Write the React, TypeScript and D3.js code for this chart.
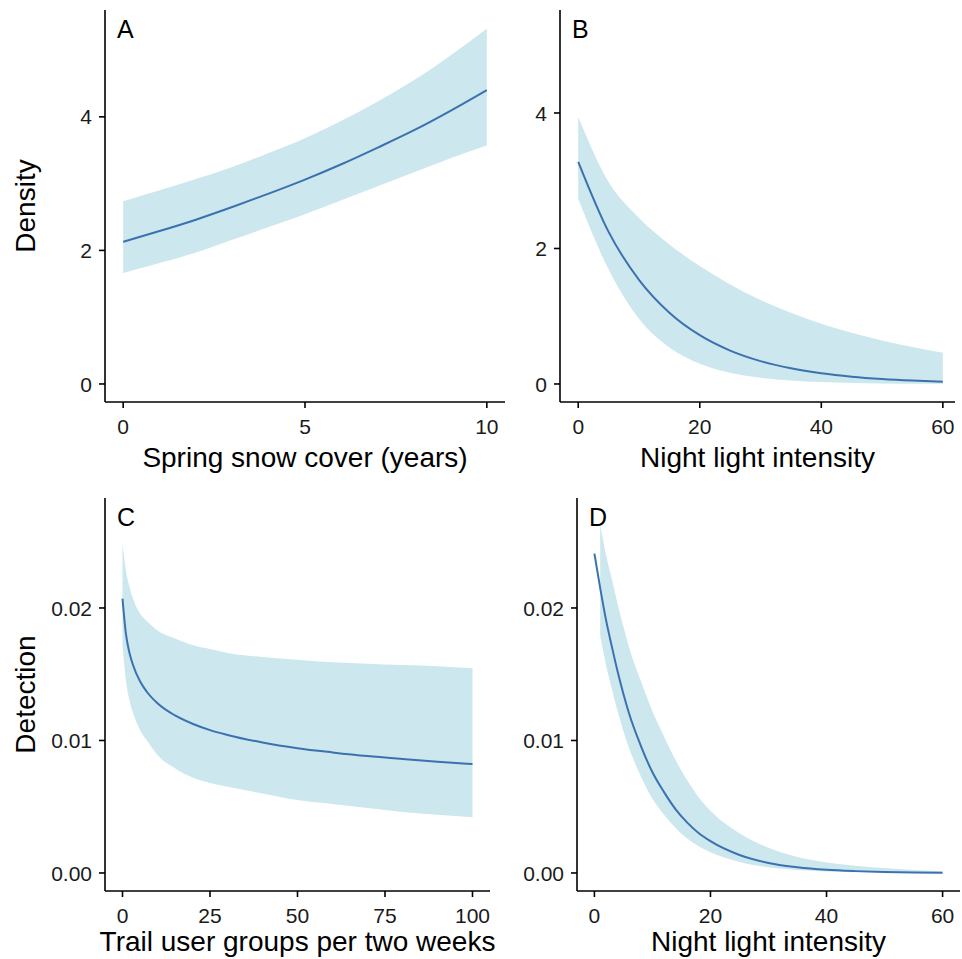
import React from "react";
import * as d3 from "d3";

// panel A: density vs spring snow cover
const snowX = [0, 1, 2, 3, 4, 5, 6, 7, 8, 9, 10];
const snowFit = [2.13, 2.29, 2.46, 2.65, 2.85, 3.06, 3.29, 3.54, 3.8, 4.09, 4.4];
const snowUpper = [2.735, 2.9, 3.07, 3.25, 3.46, 3.68, 3.94, 4.23, 4.55, 4.92, 5.32];
const snowLower = [1.66, 1.81, 1.97, 2.16, 2.35, 2.54, 2.75, 2.96, 3.17, 3.38, 3.57];

// panel B: density vs night light
const lightX = [0, 5, 10, 15, 20, 25, 30, 35, 40, 45, 50, 55, 60];
const lightFit = [3.28, 2.245, 1.537, 1.052, 0.72, 0.493, 0.3375, 0.231, 0.158, 0.108, 0.074, 0.0507, 0.0347];
const lightUpper = [3.94, 2.98, 2.45, 2.06, 1.74, 1.47, 1.24, 1.05, 0.89, 0.755, 0.64, 0.544, 0.46];
const lightLower = [2.73, 1.69, 0.962, 0.538, 0.299, 0.166, 0.0917, 0.0507, 0.028, 0.0155, 0.0086, 0.0047, 0.0026];

// panel C: detection vs trail users
const trailX = [0, 1, 2, 3, 5, 7, 10, 15, 20, 25, 30, 40, 50, 60, 70, 80, 90, 100];
const trailFit = [0.0207, 0.018, 0.0166, 0.0157, 0.01447, 0.01366, 0.01281, 0.01189, 0.01126, 0.01078, 0.01042, 0.00985, 0.00942, 0.0091, 0.00882, 0.0086, 0.0084, 0.00822];
const trailUpper = [0.0249, 0.0228, 0.0216, 0.0207, 0.0196, 0.019, 0.0183, 0.0177, 0.0172, 0.0169, 0.0166, 0.0163, 0.0161, 0.0159, 0.0158, 0.0157, 0.0156, 0.01545];
const trailLower = [0.0172, 0.0145, 0.013, 0.0121, 0.0108, 0.01, 0.0089, 0.0079, 0.0072, 0.0068, 0.0065, 0.006, 0.0055, 0.0052, 0.0049, 0.0046, 0.0044, 0.0042];

// panel D: detection vs night light
const detX = [0, 1, 2, 3, 4, 5, 6, 8, 10, 12, 14, 16, 18, 20, 25, 30, 35, 40, 45, 50, 55, 60];
const detFit = [0.0241, 0.0215, 0.0191, 0.0171, 0.0152, 0.0135, 0.012, 0.0096, 0.0076, 0.0061, 0.0048, 0.0038, 0.003, 0.0024, 0.00136, 0.00076, 0.00043, 0.00024, 0.00014, 0.00008, 0.00004, 0.00002];
// ribbon starts at x = 1
const detBandX = [1, 2, 3, 4, 5, 6, 8, 10, 12, 14, 16, 18, 20, 25, 30, 35, 40, 45, 50, 55, 60];
const detUpper = [0.0263, 0.024, 0.0222, 0.0203, 0.0186, 0.017, 0.0145, 0.0122, 0.0103, 0.0085, 0.007, 0.0057, 0.0047, 0.003, 0.0019, 0.0012, 0.0008, 0.00055, 0.00037, 0.00023, 0.00013];
const detLower = [0.0179, 0.0157, 0.0139, 0.0122, 0.0107, 0.0094, 0.0073, 0.0056, 0.0044, 0.0034, 0.0026, 0.002, 0.00156, 0.00083, 0.00043, 0.00023, 0.00012, 0.00006, 0.00003, 0.00002, 0.00001];

const ribbonFill = "#cde7ee";
const lineColor = "#3a72b0";
const font = "'Liberation Sans', Arial, sans-serif";

type PanelProps = {
  letter: string;
  xDomain: [number, number];
  yDomain: [number, number];
  xRange: [number, number];
  yRange: [number, number];
  xTicks: number[];
  yTicks: number[];
  yFormat: (v: number) => string;
  xTitle: string;
  titleGap: number;
  yTitle?: string;
  fitX: number[];
  fit: number[];
  bandX: number[];
  upper: number[];
  lower: number[];
};

function Panel(p: PanelProps) {
  const x = d3.scaleLinear().domain(p.xDomain).range(p.xRange);
  const y = d3.scaleLinear().domain(p.yDomain).range(p.yRange);
  const left = p.xRange[0];
  const right = p.xRange[1];
  const top = p.yRange[1];
  const bottom = p.yRange[0];

  const area = d3
    .area<number>()
    .x((d, i) => x(p.bandX[i]))
    .y0((d, i) => y(p.lower[i]))
    .y1((d, i) => y(p.upper[i]))
    .curve(d3.curveMonotoneX);
  const line = d3
    .line<number>()
    .x((d, i) => x(p.fitX[i]))
    .y((d) => y(d))
    .curve(d3.curveMonotoneX);

  return (
    <g fontFamily={font}>
      <path d={area(p.upper) || ""} fill={ribbonFill} />
      <path d={line(p.fit) || ""} fill="none" stroke={lineColor} strokeWidth={2} />
      <line x1={left} x2={left} y1={top} y2={bottom} stroke="black" strokeWidth={1.6} />
      <line x1={left} x2={right} y1={bottom} y2={bottom} stroke="black" strokeWidth={1.6} />
      {p.xTicks.map((t) => (
        <g key={"x" + t}>
          <line x1={x(t)} x2={x(t)} y1={bottom} y2={bottom + 6} stroke="black" strokeWidth={1.6} />
          <text x={x(t)} y={bottom + 32} textAnchor="middle" fontSize={21} fill="#1a1a1a">
            {t}
          </text>
        </g>
      ))}
      {p.yTicks.map((t) => (
        <g key={"y" + t}>
          <line x1={left - 6} x2={left} y1={y(t)} y2={y(t)} stroke="black" strokeWidth={1.6} />
          <text x={left - 13} y={y(t)} dy="0.36em" textAnchor="end" fontSize={21} fill="#1a1a1a">
            {p.yFormat(t)}
          </text>
        </g>
      ))}
      <text x={(left + right) / 2} y={bottom + p.titleGap} textAnchor="middle" fontSize={28} fill="black">
        {p.xTitle}
      </text>
      {p.yTitle && (
        <text
          transform={`translate(35,${(top + bottom) / 2}) rotate(-90)`}
          textAnchor="middle"
          fontSize={28}
          fill="black"
        >
          {p.yTitle}
        </text>
      )}
      <text x={left + 12} y={top + 28} fontSize={25} fill="black">
        {p.letter}
      </text>
    </g>
  );
}

export default function App() {
  const intFmt = (v: number) => String(v);
  const detFmt = d3.format(".2f");
  return (
    <svg width={962} height={959} style={{ position: "absolute", left: 0, top: 0, background: "white" }}>
      <rect width={962} height={959} fill="white" />
      <Panel
        letter="A"
        xDomain={[-0.5, 10.5]}
        yDomain={[-0.27, 5.6]}
        xRange={[105, 505]}
        yRange={[402, 10]}
        xTicks={[0, 5, 10]}
        yTicks={[0, 2, 4]}
        yFormat={intFmt}
        xTitle="Spring snow cover (years)"
        titleGap={65}
        yTitle="Density"
        fitX={snowX}
        fit={snowFit}
        bandX={snowX}
        upper={snowUpper}
        lower={snowLower}
      />
      <Panel
        letter="B"
        xDomain={[-3, 62]}
        yDomain={[-0.266, 5.52]}
        xRange={[560, 955]}
        yRange={[402, 10]}
        xTicks={[0, 20, 40, 60]}
        yTicks={[0, 2, 4]}
        yFormat={intFmt}
        xTitle="Night light intensity"
        titleGap={65}
        fitX={lightX}
        fit={lightFit}
        bandX={lightX}
        upper={lightUpper}
        lower={lightLower}
      />
      <Panel
        letter="C"
        xDomain={[-5, 105]}
        yDomain={[-0.00136, 0.0283]}
        xRange={[105, 490]}
        yRange={[891, 498]}
        xTicks={[0, 25, 50, 75, 100]}
        yTicks={[0, 0.01, 0.02]}
        yFormat={detFmt}
        xTitle="Trail user groups per two weeks"
        titleGap={60}
        yTitle="Detection"
        fitX={trailX}
        fit={trailFit}
        bandX={trailX}
        upper={trailUpper}
        lower={trailLower}
      />
      <Panel
        letter="D"
        xDomain={[-3, 63]}
        yDomain={[-0.00136, 0.0283]}
        xRange={[577, 960]}
        yRange={[891, 498]}
        xTicks={[0, 20, 40, 60]}
        yTicks={[0, 0.01, 0.02]}
        yFormat={detFmt}
        xTitle="Night light intensity"
        titleGap={60}
        fitX={detX}
        fit={detFit}
        bandX={detBandX}
        upper={detUpper}
        lower={detLower}
      />
    </svg>
  );
}
